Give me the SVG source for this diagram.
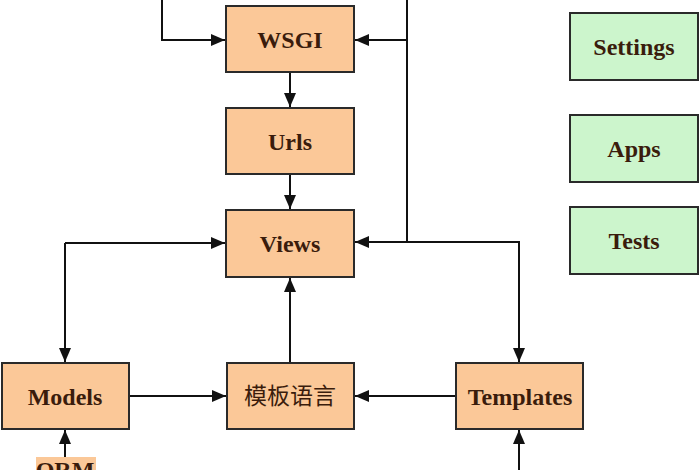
<svg xmlns="http://www.w3.org/2000/svg" width="700" height="470" viewBox="0 0 700 470">
<style>
.o{fill:#fbc898;stroke:#2a2a2a;stroke-width:2}
.g{fill:#ccf5cc;stroke:#2a2a2a;stroke-width:2}
.t{font-family:"Liberation Serif","Times New Roman",serif;font-weight:bold;font-size:24px;fill:#3a1c0c;text-anchor:middle}
.c{font-family:"Noto Sans CJK SC","Noto Sans CJK JP",sans-serif;font-size:23px;fill:#3a1c0c;text-anchor:middle}
.l{fill:none;stroke:#111;stroke-width:2}
</style>
<defs>
<marker id="a" viewBox="0 0 14 12" refX="14" refY="6" markerWidth="14" markerHeight="12" markerUnits="userSpaceOnUse" orient="auto"><path d="M0,0 L14,6 L0,12 z" fill="#111"/></marker>
</defs>
<g id="connectors">
<path class="l" d="M162,0 V40 H225" marker-end="url(#a)"/>
<path class="l" d="M407,0 V242"/>
<path class="l" d="M407,40 H355" marker-end="url(#a)"/>
<path class="l" d="M407,242 H355" marker-end="url(#a)"/>
<path class="l" d="M290,72 V107" marker-end="url(#a)"/>
<path class="l" d="M290,174 V209" marker-end="url(#a)"/>
<path class="l" d="M65,243 H225" marker-end="url(#a)"/>
<path class="l" d="M65,243 V362" marker-end="url(#a)"/>
<path class="l" d="M407,242 H519 V362" marker-end="url(#a)"/>
<path class="l" d="M290,363 V278" marker-end="url(#a)"/>
<path class="l" d="M129,396 H226" marker-end="url(#a)"/>
<path class="l" d="M456,396 H355" marker-end="url(#a)"/>
<path class="l" d="M65,457 V430" marker-end="url(#a)"/>
<path class="l" d="M519,470 V430" marker-end="url(#a)"/>
</g>
<g id="wsgi"><rect class="o" x="226" y="6" width="128" height="66"/><text class="t" x="290" y="48">WSGI</text></g>
<g id="urls"><rect class="o" x="226" y="108" width="128" height="66"/><text class="t" x="290" y="150">Urls</text></g>
<g id="views"><rect class="o" x="226" y="210" width="128" height="67"/><text class="t" x="290" y="252">Views</text></g>
<g id="models"><rect class="o" x="2" y="363" width="127" height="66"/><text class="t" x="65" y="405">Models</text></g>
<g id="template-lang"><rect class="o" x="227" y="363" width="127" height="66"/><text class="c" x="290" y="404">模板语言</text></g>
<g id="templates"><rect class="o" x="456" y="363" width="127" height="66"/><text class="t" x="520" y="405">Templates</text></g>
<g id="settings"><rect class="g" x="570" y="13" width="128" height="67"/><text class="t" x="634" y="55">Settings</text></g>
<g id="apps"><rect class="g" x="570" y="115" width="128" height="67"/><text class="t" x="634" y="157">Apps</text></g>
<g id="tests"><rect class="g" x="570" y="207" width="128" height="67"/><text class="t" x="634" y="249">Tests</text></g>
<g id="orm"><rect x="36" y="457" width="60" height="20" fill="#fbc898"/><text class="t" x="65" y="478">ORM</text></g>
</svg>
